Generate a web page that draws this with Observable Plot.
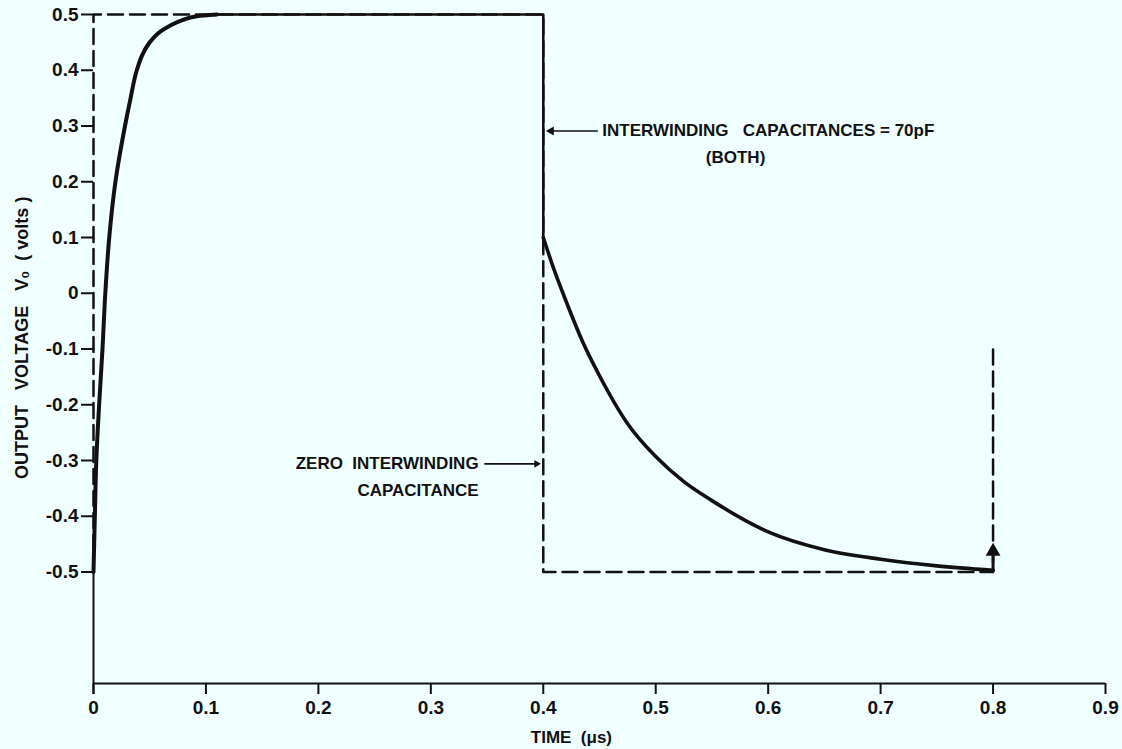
<!DOCTYPE html>
<html><head><meta charset="utf-8">
<script src="https://cdn.jsdelivr.net/npm/d3@7"></script>
<script src="https://cdn.jsdelivr.net/npm/@observablehq/plot@0.6"></script>
<style>
html,body{margin:0;padding:0;background:#f0ffff;}
</style></head><body><div id="chart"></div>
<script>
// Response curve (solid): rise, flat top, drop, decay
const riseTime  = [0, 0.0012, 0.0025, 0.005, 0.008, 0.0105, 0.014, 0.0195, 0.028, 0.033, 0.0385, 0.044, 0.050, 0.060, 0.068, 0.079, 0.092, 0.110];
const riseVolts = [-0.5, -0.4, -0.3, -0.2, -0.1, 0.0, 0.1, 0.2, 0.3, 0.35, 0.4, 0.43, 0.45, 0.47, 0.48, 0.49, 0.497, 0.5];
const flatTime  = [0.110, 0.4, 0.4];
const flatVolts = [0.5, 0.5, 0.1];
const decayTime  = [0.400, 0.410, 0.420, 0.435, 0.450, 0.475, 0.500, 0.525, 0.550, 0.600, 0.650, 0.700, 0.750, 0.800];
const decayVolts = [0.10, 0.04, -0.013, -0.087, -0.148, -0.234, -0.293, -0.338, -0.372, -0.428, -0.460, -0.477, -0.489, -0.497];
// Input square wave (dashed, zero interwinding capacitance)
const inputTime  = [0, 0, 0.4, 0.4, 0.8, 0.8];
const inputVolts = [-0.5, 0.5, 0.5, -0.5, -0.5, -0.1];
// Axis ticks
const xTicks = [0, 0.1, 0.2, 0.3, 0.4, 0.5, 0.6, 0.7, 0.8, 0.9];
const xTickLabels = ["0", "0.1", "0.2", "0.3", "0.4", "0.5", "0.6", "0.7", "0.8", "0.9"];
const yTicks = [0.5, 0.4, 0.3, 0.2, 0.1, 0, -0.1, -0.2, -0.3, -0.4, -0.5];
const yTickLabels = ["0.5", "0.4", "0.3", "0.2", "0.1", "0", "-0.1", "-0.2", "-0.3", "-0.4", "-0.5"];
// Annotations
const notesStart = [{t: 0.4525, v: 0.291, text: "INTERWINDING   CAPACITANCES = 70pF"}];
const notesMiddle = [{t: 0.571, v: 0.243, text: "(BOTH)"}];
const notesEnd = [
  {t: 0.3425, v: -0.306, text: "ZERO  INTERWINDING"},
  {t: 0.3425, v: -0.354, text: "CAPACITANCE"}
];
const pointers = [
  {t1: 0.449, t2: 0.405, v: 0.291, head: 0.407, rot: -90, r: 5},
  {t1: 0.348, t2: 0.395, v: -0.306, head: 0.394, rot: 90, r: 3.5}
];
const endArrow = [{t: 0.8, from: -0.5, to: -0.47, head: -0.463}];
const yAxisBase = [{t: 0, from: -0.72, to: -0.5}];
const yTitle = [{v: -0.08, text: "OUTPUT   VOLTAGE   V\u2080  ( volts )"}];
const xTitle = [{t: 0.425, text: "TIME  (\u03bcs)"}];

const data = (ts, vs) => ts.map((t, i) => ({t, v: vs[i]}));
const ink = "#111";
const font = "'Liberation Sans', Arial, sans-serif";

const chart = Plot.plot({
  width: 1122, height: 749,
  marginLeft: 93, marginRight: 17, marginTop: 14, marginBottom: 66,
  style: {background: "#f0ffff", fontFamily: font, fontWeight: "bold", color: ink},
  x: {domain: [0, 0.9]},
  y: {domain: [-0.7, 0.5]},
  marks: [
    Plot.ruleY([-0.7], {stroke: ink, strokeWidth: 2}),
    Plot.ruleX(yAxisBase, {x: "t", y1: "from", y2: "to", stroke: ink, strokeWidth: 2}),
    Plot.axisX({ticks: xTicks, tickFormat: (d, i) => xTickLabels[i], tickSize: 11, tickPadding: 6, strokeWidth: 2, fontSize: 19, label: null}),
    Plot.axisY({ticks: yTicks, tickFormat: (d, i) => yTickLabels[i], tickSize: 12, tickPadding: 3, strokeWidth: 2, fontSize: 19, label: null}),
    Plot.line(data(inputTime, inputVolts), {x: "t", y: "v", stroke: ink, strokeWidth: 2.5, strokeDasharray: "15,7"}),
    Plot.line(data(flatTime, flatVolts), {x: "t", y: "v", stroke: ink, strokeWidth: 2.6}),
    Plot.line(data(riseTime, riseVolts), {x: "t", y: "v", stroke: ink, strokeWidth: 4, curve: "monotone-y"}),
    Plot.line(data(decayTime, decayVolts), {x: "t", y: "v", stroke: ink, strokeWidth: 3.6, curve: "monotone-x"}),
    Plot.ruleX(endArrow, {x: "t", y1: "from", y2: "to", stroke: ink, strokeWidth: 3}),
    Plot.dot(endArrow, {x: "t", y: "head", symbol: "triangle", r: 5.5, fill: ink, stroke: "none"}),
    Plot.ruleY(pointers, {x1: "t1", x2: "t2", y: "v", stroke: ink, strokeWidth: 1.6}),
    Plot.dot(pointers, {x: "head", y: "v", symbol: "triangle", r: "r", rotate: "rot", fill: ink, stroke: "none"}),
    Plot.text(notesStart, {x: "t", y: "v", text: "text", textAnchor: "start", fontSize: 17, fontWeight: "bold", fill: ink}),
    Plot.text(notesMiddle, {x: "t", y: "v", text: "text", textAnchor: "middle", fontSize: 17, fontWeight: "bold", fill: ink}),
    Plot.text(notesEnd, {x: "t", y: "v", text: "text", textAnchor: "end", fontSize: 17, fontWeight: "bold", fill: ink}),
    Plot.text(yTitle, {frameAnchor: "left", y: "v", text: "text", dx: -71, rotate: -90, textAnchor: "middle", lineAnchor: "middle", fontSize: 18, fontWeight: "bold", fill: ink}),
    Plot.text(xTitle, {frameAnchor: "bottom", x: "t", text: "text", dy: 54, textAnchor: "middle", lineAnchor: "middle", fontSize: 17, fontWeight: "bold", fill: ink})
  ]
});
document.getElementById("chart").append(chart);
</script>
</body></html>
